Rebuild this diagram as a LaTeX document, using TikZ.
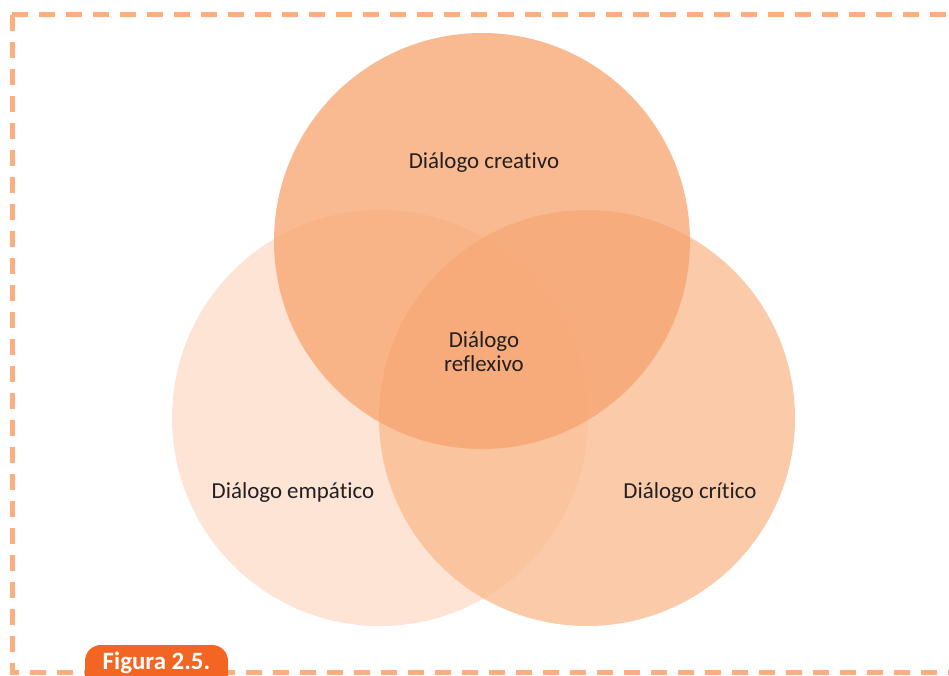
\documentclass[tikz,border=0pt]{standalone}
\usepackage{fontspec}
\setmainfont{Carlito}[Ligatures=NoCommon]
\definecolor{empaticofill}{HTML}{FDE4D4}
\definecolor{criticofill}{HTML}{FABB90}
\definecolor{creativofill}{HTML}{F7A36E}
\definecolor{framepeach}{HTML}{FBAE80}
\definecolor{tagorange}{HTML}{F26522}
\definecolor{labelgray}{HTML}{231F20}
\tikzset{
  venn/.style={circle, minimum size=416bp, inner sep=0pt},
  vennlabel/.style={text=labelgray, font=\fontsize{23}{24}\selectfont, align=center},
  framedash/.style={draw=framepeach, line width=5bp, dash pattern=on 16bp off 11bp},
}

\begin{document}
\begin{tikzpicture}[x=1bp, y=-1bp]
  \useasboundingbox (0,0) rectangle (949,676);
  % dashed frame, open on the right
  \coordinate (corner) at (12,15);
  \coordinate (topend) at (949,15);
  \coordinate (botleft) at (12,672);
  \coordinate (botend) at (949,672);
  \draw[framedash] (corner) -- (topend);
  \draw[framedash] (corner) -- (botleft) -- (botend);
  % the three circles
  \node[venn, fill=empaticofill] (empatico) at (380,418) {};
  \node[venn, fill=criticofill, fill opacity=0.78] (critico) at (587,418) {};
  \node[venn, fill=creativofill, fill opacity=0.75] (creativo) at (482,241) {};
  % labels
  \node[vennlabel] (lcreativo) at (484,163) {Diálogo creativo};
  \node[vennlabel] (lreflexivo) at (484,352) {Diálogo\\reflexivo};
  \node[vennlabel] (lempatico) at (293,493) {Diálogo empático};
  \node[vennlabel] (lcritico) at (690,493) {Diálogo crítico};
  % figure tag
  \fill[tagorange, rounded corners=16bp] (85,645) rectangle (228,700);
  \node[text=white, font=\bfseries\fontsize{25}{27}\selectfont, anchor=base] (tag) at (156.5,669) {Figura 2.5.};
\end{tikzpicture}
\end{document}
